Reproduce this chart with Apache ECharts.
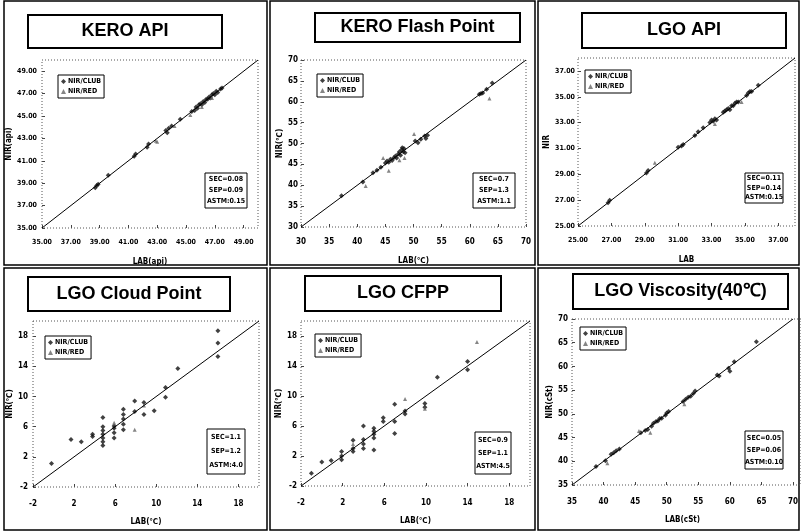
<!DOCTYPE html>
<html>
<head>
<meta charset="utf-8">
<title>NIR vs LAB</title>
<script src="https://cdn.jsdelivr.net/npm/echarts@6/dist/echarts.min.js"></script>
<style>
html, body { margin: 0; padding: 0; background: #fff; }
#chart { width: 801px; height: 531px; }
</style>
</head>
<body>
<div id="chart"></div>
<script>
// ---- data, [LAB, NIR] pairs ----
const keroApiClub = [[38.7,38.6],[38.8,38.8],[38.9,38.9],[39.6,39.7],[41.4,41.4],[41.5,41.6],[42.3,42.2],[42.4,42.5],[43.6,43.7],[43.7,43.5],[43.8,43.9],[44.0,44.1],[44.6,44.7],[45.4,45.4],[45.6,45.5],[45.7,45.8],[45.8,45.7],[45.9,46.0],[46.0,46.1],[46.1,46.0],[46.2,46.3],[46.3,46.2],[46.4,46.5],[46.5,46.5],[46.6,46.7],[46.7,46.6],[46.8,46.9],[46.9,47.0],[47.0,46.9],[47.1,47.2],[47.2,47.1],[47.4,47.4],[47.5,47.5]];
const keroApiRed = [[42.9,42.8],[43.0,42.7],[44.2,44.1],[45.3,45.1],[46.1,45.8],[46.8,46.6]];
const keroApiTicks = [35, 37, 39, 41, 43, 45, 47, 49];
const keroApiStats = ['SEC=0.08', 'SEP=0.09', 'ASTM:0.15'];

const keroFlashClub = [[37.2,37.5],[41.0,40.8],[42.8,43.0],[43.5,43.6],[44.2,44.3],[45.0,45.3],[45.3,45.8],[45.6,45.5],[45.9,46.2],[46.2,45.9],[46.5,46.6],[46.8,47.0],[47.0,46.5],[47.3,47.5],[47.5,48.0],[47.7,47.2],[47.9,48.5],[48.0,49.0],[48.2,48.0],[48.3,48.8],[48.5,47.8],[50.3,50.6],[50.8,50.2],[51.3,51.0],[52.0,51.8],[52.2,51.2],[52.5,52.0],[61.7,61.8],[62.0,62.0],[62.3,62.1],[63.0,63.0],[64.0,64.5]];
const keroFlashRed = [[41.5,39.8],[44.6,46.5],[45.6,43.5],[47.5,46.0],[48.4,46.5],[50.1,52.3],[63.5,60.8]];
const keroFlashTicks = [30, 35, 40, 45, 50, 55, 60, 65, 70];
const keroFlashStats = ['SEC=0.7', 'SEP=1.3', 'ASTM:1.1'];

const lgoApiClub = [[26.8,26.8],[26.9,27.0],[29.1,29.1],[29.2,29.3],[31.0,31.1],[31.2,31.2],[31.3,31.3],[32.0,32.0],[32.2,32.3],[32.5,32.6],[32.9,33.0],[33.0,33.2],[33.1,33.1],[33.2,33.3],[33.3,33.2],[33.7,33.8],[33.8,33.9],[33.9,34.0],[34.0,34.1],[34.1,34.0],[34.2,34.3],[34.3,34.3],[34.4,34.5],[34.5,34.6],[34.6,34.6],[35.1,35.1],[35.2,35.3],[35.3,35.4],[35.4,35.4],[35.8,35.9]];
const lgoApiRed = [[29.6,29.9],[33.2,32.9],[34.8,34.6]];
const lgoApiTicks = [25, 27, 29, 31, 33, 35, 37];
const lgoApiStats = ['SEC=0.11', 'SEP=0.14', 'ASTM:0.15'];

const cloudClub = [[-0.2,1.1],[1.7,4.3],[2.7,4.0],[3.8,4.7],[3.8,5.0],[4.8,3.5],[4.8,4.0],[4.8,4.5],[4.8,5.0],[4.8,5.5],[4.8,6.0],[4.8,7.2],[5.9,4.5],[5.9,5.2],[5.9,5.8],[5.9,6.1],[6.8,5.6],[6.8,6.3],[6.8,7.0],[6.8,7.6],[6.8,8.3],[7.9,8.0],[7.9,9.4],[8.8,7.6],[8.8,9.2],[9.8,8.1],[10.9,9.9],[10.9,11.2],[12.1,13.7],[16.0,15.3],[16.0,17.1],[16.0,18.7]];
const cloudRed = [[7.9,5.6],[8.8,8.8],[5.9,6.5]];
const cloudTicks = [-2, 2, 6, 10, 14, 18];
const cloudStats = ['SEC=1.1', 'SEP=1.2', 'ASTM:4.0'];

const cfppClub = [[-1.0,-0.3],[0.0,1.2],[0.9,1.4],[1.9,1.5],[1.9,2.0],[1.9,2.6],[3.0,3.0],[3.0,2.6],[3.0,4.1],[4.0,3.0],[4.0,3.6],[4.0,4.2],[4.0,6.0],[5.0,2.8],[5.0,4.4],[5.0,4.9],[5.0,5.3],[5.0,5.7],[5.9,6.6],[5.9,7.1],[7.0,5.0],[7.0,6.6],[7.0,8.9],[8.0,7.6],[8.0,8.0],[9.9,8.5],[9.9,9.0],[11.1,12.5],[14.0,13.5],[14.0,14.6]];
const cfppRed = [[8.0,9.6],[9.9,8.3],[14.9,17.2],[3.0,3.6]];
const cfppTicks = [-2, 2, 6, 10, 14, 18];
const cfppStats = ['SEC=0.9', 'SEP=1.1', 'ASTM:4.5'];

const viscClub = [[38.8,38.9],[40.3,40.1],[41.2,41.5],[41.6,41.8],[42.0,42.2],[42.5,42.6],[45.9,46.0],[46.6,46.5],[47.0,46.7],[47.6,47.4],[47.9,48.0],[48.3,48.4],[48.6,48.5],[48.9,49.0],[49.2,49.1],[49.8,49.7],[50.0,50.2],[50.3,50.5],[52.6,52.6],[53.0,53.1],[53.4,53.5],[53.8,53.7],[54.2,54.3],[54.5,54.8],[58.0,58.2],[58.3,58.0],[59.8,59.6],[60.0,59.0],[60.7,61.0],[64.2,65.2]];
const viscRed = [[40.6,39.6],[45.6,46.4],[47.4,46.0],[52.8,52.0]];
const viscTicks = [35, 40, 45, 50, 55, 60, 65, 70];
const viscStats = ['SEC=0.05', 'SEP=0.06', 'ASTM:0.10'];

const legendNames = ['NIR/CLUB', 'NIR/RED'];

// ---- layout of the six panels ----
const FONT = "'Liberation Sans Narrow', 'DejaVu Sans Condensed', 'Liberation Sans', sans-serif";

const panels = [
    { title: 'KERO API', box: [28, 15, 194, 33], grid: [42, 60, 216, 168], range: [35, 50], ticks: keroApiTicks, digits: 2, size: 7,
      xName: 'LAB(api)', yName: 'NIR(api)', yGap: 27, yMargin: 5, xGap: 30, xMargin: 11,
      club: keroApiClub, red: keroApiRed, stats: keroApiStats, legend: [58, 75], statsBox: [205, 173, 42, 35] },
    { title: 'KERO Flash Point', box: [315, 13, 205, 29], grid: [301, 60, 225, 167], range: [30, 70], ticks: keroFlashTicks, digits: 0, size: 8,
      xName: 'LAB(℃)', yName: 'NIR(℃)', yGap: 14, yMargin: 3, xGap: 30, xMargin: 11,
      club: keroFlashClub, red: keroFlashRed, stats: keroFlashStats, legend: [317, 74], statsBox: [473, 173, 42, 35] },
    { title: 'LGO API', box: [582, 13, 204, 35], grid: [578, 58, 217, 168], range: [25, 38], ticks: lgoApiTicks, digits: 2, size: 7,
      xName: 'LAB', yName: 'NIR', yGap: 25, yMargin: 3, xGap: 30, xMargin: 11,
      club: lgoApiClub, red: lgoApiRed, stats: lgoApiStats, legend: [585, 70], statsBox: [745, 173, 38, 30] },
    { title: 'LGO Cloud Point', box: [28, 277, 202, 34], grid: [33, 321, 226, 166], range: [-2, 20], ticks: cloudTicks, digits: 0, size: 8,
      xName: 'LAB(℃)', yName: 'NIR(℃)', yGap: 14, yMargin: 5, xGap: 31, xMargin: 13,
      club: cloudClub, red: cloudRed, stats: cloudStats, legend: [45, 336], statsBox: [207, 429, 38, 45] },
    { title: 'LGO CFPP', box: [305, 276, 196, 35], grid: [301, 321, 229, 165], range: [-2, 20], ticks: cfppTicks, digits: 0, size: 8,
      xName: 'LAB(℃)', yName: 'NIR(℃)', yGap: 13, yMargin: 4, xGap: 31, xMargin: 13,
      club: cfppClub, red: cfppRed, stats: cfppStats, legend: [315, 334], statsBox: [475, 432, 36, 42] },
    { title: 'LGO Viscosity(40℃)', box: [573, 274, 215, 35], grid: [572, 319, 229, 166], range: [35, 70], ticks: viscTicks, digits: 0, size: 8,
      xName: 'LAB(cSt)', yName: 'NIR(cSt)', yGap: 15, yMargin: 4, xGap: 31, xMargin: 13,
      club: viscClub, red: viscRed, stats: viscStats, legend: [580, 327], statsBox: [745, 431, 38, 38] }
];

const frames = [
    [4, 1, 263, 264], [270, 1, 265, 264], [538, 1, 261, 264],
    [4, 268, 263, 262], [270, 268, 265, 262], [538, 268, 261, 262]
];

const labelStyle = { fontSize: 8, fontWeight: 'bold', color: '#000', fontFamily: FONT };

const chart = echarts.init(document.getElementById('chart'));

let grids = [], xAxes = [], yAxes = [], series = [], legends = [], graphics = [];

frames.forEach(f => {
    graphics.push({
        type: 'rect', z: 1,
        shape: { x: f[0], y: f[1], width: f[2], height: f[3] },
        style: { fill: null, stroke: '#000', lineWidth: 1.5 }
    });
});

panels.forEach((p, i) => {
    grids.push({ left: p.grid[0], top: p.grid[1], width: p.grid[2], height: p.grid[3] });

    const fmt = v => v.toFixed(p.digits);
    const tickLabel = Object.assign({}, labelStyle, { fontSize: p.size });

    xAxes.push({
        gridIndex: i, type: 'value', min: p.range[0], max: p.range[1],
        name: p.xName, nameLocation: 'middle', nameGap: p.xGap, nameTextStyle: labelStyle,
        axisLine: { show: false, onZero: false },
        splitLine: { show: false },
        axisTick: { show: true, inside: true, length: 3, customValues: p.ticks, lineStyle: { color: '#444' } },
        axisLabel: Object.assign({ customValues: p.ticks, formatter: fmt, margin: p.xMargin }, tickLabel)
    });
    yAxes.push({
        gridIndex: i, type: 'value', min: p.range[0], max: p.range[1],
        name: p.yName, nameLocation: 'middle', nameGap: p.yGap, nameTextStyle: labelStyle,
        axisLine: { show: false, onZero: false },
        splitLine: { show: false },
        axisTick: { show: true, inside: true, length: 3, customValues: p.ticks, lineStyle: { color: '#444' } },
        axisLabel: Object.assign({ customValues: p.ticks, formatter: fmt, margin: p.yMargin }, tickLabel)
    });

    // 1:1 reference line
    series.push({
        type: 'line', xAxisIndex: i, yAxisIndex: i, silent: true, showSymbol: false,
        data: [[p.range[0], p.range[0]], [p.range[1], p.range[1]]],
        lineStyle: { color: '#000', width: 1 }
    });
    series.push({
        name: legendNames[0], type: 'scatter', xAxisIndex: i, yAxisIndex: i,
        symbol: 'diamond', symbolSize: 5, data: p.club,
        itemStyle: { color: '#111' }
    });
    series.push({
        name: legendNames[1], type: 'scatter', xAxisIndex: i, yAxisIndex: i,
        symbol: 'triangle', symbolSize: 4, data: p.red,
        itemStyle: { color: '#666' }
    });

    legends.push({
        left: p.legend[0], top: p.legend[1], orient: 'vertical', data: legendNames,
        borderColor: '#000', borderWidth: 1, padding: [3, 3], itemGap: 3,
        itemWidth: 5, itemHeight: 5, backgroundColor: '#fff', selectedMode: false,
        textStyle: { fontSize: 7, fontWeight: 'bold', color: '#000', fontFamily: FONT, padding: [0, 0, 0, -3] }
    });

    // dotted plot frame
    graphics.push({
        type: 'rect', z: 2,
        shape: { x: p.grid[0], y: p.grid[1], width: p.grid[2], height: p.grid[3] },
        style: { fill: null, stroke: '#555', lineWidth: 1, lineDash: [1, 2] }
    });
    // title box
    graphics.push({
        type: 'group', z: 10,
        children: [
            { type: 'rect', shape: { x: p.box[0], y: p.box[1], width: p.box[2], height: p.box[3] },
              style: { fill: '#fff', stroke: '#000', lineWidth: 2 } },
            { type: 'text', x: p.box[0] + p.box[2] / 2, y: p.box[1] + p.box[3] / 2,
              style: { text: p.title, fontSize: 18, fontWeight: 'bold', fontFamily: "'Liberation Sans', Arial, sans-serif",
                       fill: '#000', align: 'center', verticalAlign: 'middle' } }
        ]
    });
    // statistics box
    graphics.push({
        type: 'group', z: 10,
        children: [
            { type: 'rect', shape: { x: p.statsBox[0], y: p.statsBox[1], width: p.statsBox[2], height: p.statsBox[3] },
              style: { fill: '#fff', stroke: '#000', lineWidth: 1 } },
            { type: 'text', x: p.statsBox[0] + p.statsBox[2] / 2, y: p.statsBox[1] + p.statsBox[3] / 2,
              style: { text: p.stats.join('\n'), fontSize: 7, fontWeight: 'bold', fontFamily: FONT, lineHeight: p.statsBox[3] / 3.2,
                       fill: '#000', align: 'center', verticalAlign: 'middle' } }
        ]
    });
});

chart.setOption({
    backgroundColor: '#fff',
    animation: false,
    grid: grids,
    xAxis: xAxes,
    yAxis: yAxes,
    legend: legends,
    series: series,
    graphic: graphics
});
</script>
</body>
</html>
